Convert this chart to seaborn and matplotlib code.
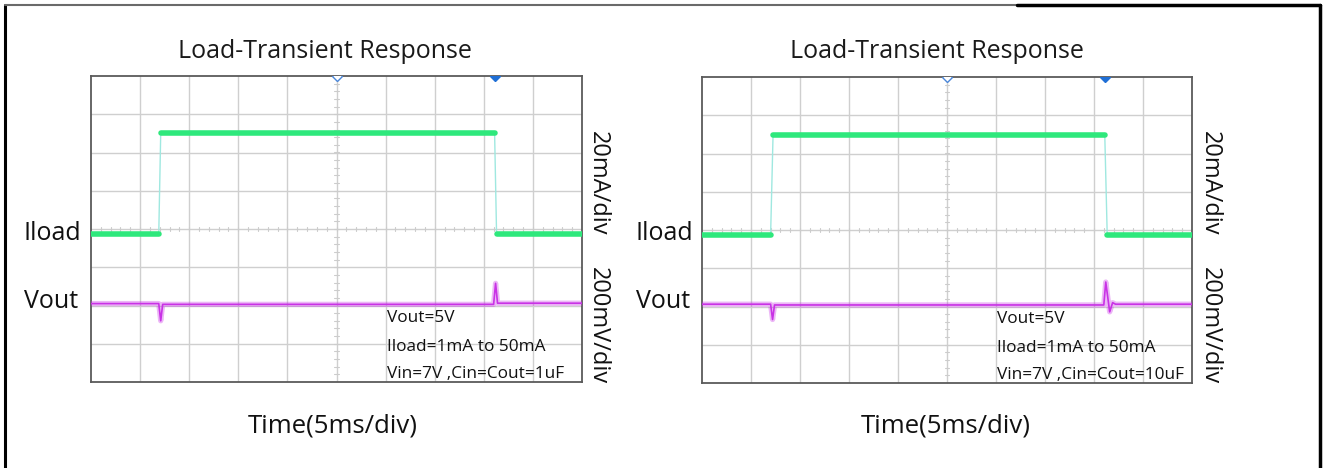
import numpy as np
import pandas as pd
import matplotlib
matplotlib.use("Agg")
import matplotlib.pyplot as plt
from matplotlib.lines import Line2D
import seaborn as sns

sns.set_theme(style="white")
plt.rcParams['font.family'] = ['Open Sans', 'DejaVu Sans']

# ---------------- data (in scope divisions) ----------------
titles = ["Load-Transient Response", "Load-Transient Response"]
notes_left = ["Vout=5V", "Iload=1mA to 50mA", "Vin=7V ,Cin=Cout=1uF"]
notes_right = ["Vout=5V", "Iload=1mA to 50mA", "Vin=7V ,Cin=Cout=10uF"]

# Iload trace (green)
iload_t_left = [0.0, 1.38, 1.42, 8.22, 8.26, 10.0]
iload_v_left = [3.87, 3.87, 6.51, 6.51, 3.87, 3.87]
iload_t_right = [0.0, 1.40, 1.45, 8.22, 8.27, 10.0]
iload_v_right = [3.86, 3.86, 6.48, 6.48, 3.86, 3.86]

# Vout trace (purple)
vout_t_left = [0.0, 1.38, 1.42, 1.46, 1.50, 8.20, 8.24, 8.28, 8.32, 10.0]
vout_v_left = [2.05, 2.05, 1.60, 2.03, 2.03, 2.03, 2.58, 2.06, 2.06, 2.06]
vout_t_right = [0.0, 1.40, 1.44, 1.48, 1.52, 8.20, 8.24, 8.32, 8.38, 8.44, 10.0]
vout_v_right = [2.06, 2.06, 1.66, 2.04, 2.04, 2.04, 2.64, 1.86, 2.10, 2.06, 2.06]

x_label = "Time(5ms/div)"
ch_labels = ["Iload", "Vout"]
scale_labels = ["20mA/div", "200mV/div"]

# ---------------- figure ----------------
W, H = 1323, 468
fig = plt.figure(figsize=(W / 100, H / 100), dpi=100)

green = "#2ee87c"
purple = "#c932e6"
grid_c = "#cfcfcf"
frame_c = "#5a5a5a"

def px_rect(x0, y0, x1, y1):
    return [x0 / W, 1 - y1 / H, (x1 - x0) / W, (y1 - y0) / H]

panels = [
    dict(rect=px_rect(91, 76, 582, 382), it=iload_t_left, iv=iload_v_left,
         vt=vout_t_left, vv=vout_v_left, notes=notes_left, title=titles[0],
         title_x=325, lab_x=24, scale_x=598, time_x=333),
    dict(rect=px_rect(702, 77, 1192, 383), it=iload_t_right, iv=iload_v_right,
         vt=vout_t_right, vv=vout_v_right, notes=notes_right, title=titles[1],
         title_x=937, lab_x=636, scale_x=1210, time_x=946),
]

for p in panels:
    ax = fig.add_axes(p["rect"])
    ax.set_xlim(0, 10)
    ax.set_ylim(0, 8)
    # grid
    for gx in range(1, 10):
        ax.axvline(gx, color=grid_c, lw=1.0, zorder=0)
    for gy in range(1, 8):
        ax.axhline(gy, color=grid_c, lw=1.0, zorder=0)
    # center minor ticks
    for mx in np.arange(0.2, 10, 0.2):
        ax.plot([mx, mx], [3.96, 4.04], color="#cccccc", lw=0.8, zorder=0)
    for my in np.arange(0.2, 8, 0.2):
        ax.plot([4.95, 5.05], [my, my], color="#cccccc", lw=0.8, zorder=0)

    dfi = pd.DataFrame({"t": p["it"], "v": p["iv"]})
    dfv = pd.DataFrame({"t": p["vt"], "v": p["vv"]})
    # thin vertical edges in light cyan
    sns.lineplot(data=dfi, x="t", y="v", ax=ax, color="#9fe8e0", lw=1.0,
                 sort=False, estimator=None, zorder=2)
    # thick flat segments
    it, iv = p["it"], p["iv"]
    for a, b in [(0, 1), (2, 3), (4, 5)]:
        seg = pd.DataFrame({"t": [it[a], it[b]], "v": [iv[a], iv[b]]})
        sns.lineplot(data=seg, x="t", y="v", ax=ax, color=green, lw=4.0,
                     sort=False, estimator=None, zorder=3)
    sns.lineplot(data=dfv, x="t", y="v", ax=ax, color=purple, lw=1.2,
                 sort=False, estimator=None, zorder=3)
    sns.lineplot(data=dfv, x="t", y="v", ax=ax, color=purple, lw=3.8,
                 alpha=0.35, sort=False, estimator=None, zorder=3)

    # trigger markers at the top edge
    ax.plot([5], [8], marker="D", ms=5.5, mfc="white", mec="#4a86d8", mew=1.0,
            clip_on=True, zorder=5)
    ax.plot([it[3]], [8], marker="D", ms=5.5, color="#1f6fd6", clip_on=True, zorder=5)

    for s in ax.spines.values():
        s.set_color(frame_c)
        s.set_linewidth(1.3)
    ax.set_xticks([])
    ax.set_yticks([])
    ax.set_xlabel("")
    ax.set_ylabel("")

    for txt, yy in zip(p["notes"], [1.67, 0.92, 0.21]):
        ax.text(6.03, yy, txt, fontsize=12.4, ha="left", va="center", color="#111111")

    # labels in figure pixel coords
    fig.text(p["title_x"] / W, 1 - 51 / H, p["title"],
             ha="center", va="center", fontsize=18, color="#1a1a1a")
    fig.text(p["lab_x"] / W, 1 - 233 / H, ch_labels[0], ha="left", va="center",
             fontsize=18, color="#111111")
    fig.text(p["lab_x"] / W, 1 - 301 / H, ch_labels[1], ha="left", va="center",
             fontsize=18, color="#111111")
    fig.text(p["scale_x"] / W, 1 - 183 / H, scale_labels[0], ha="center",
             va="center", rotation=-90, fontsize=17, color="#111111")
    fig.text(p["scale_x"] / W, 1 - 326 / H, scale_labels[1], ha="center",
             va="center", rotation=-90, fontsize=17, color="#111111")
    fig.text(p["time_x"] / W, 1 - 426 / H, x_label, ha="center", va="center",
             fontsize=18.5, color="#111111")

# outer border
fig.add_artist(Line2D([5 / W, 5 / W], [1 - 5 / H, 0], color="black", lw=2.2,
                      transform=fig.transFigure))
fig.add_artist(Line2D([5 / W, 1017 / W], [1 - 5 / H, 1 - 5 / H], color="#6a6a6a",
                      lw=1.5, transform=fig.transFigure))
fig.add_artist(Line2D([1017 / W, 1320 / W], [1 - 5 / H, 1 - 5 / H], color="black",
                      lw=2.5, transform=fig.transFigure))
fig.add_artist(Line2D([1320 / W, 1320 / W], [1 - 5 / H, 0], color="black", lw=2.5,
                      transform=fig.transFigure))

fig.savefig("out.png", dpi=100)
